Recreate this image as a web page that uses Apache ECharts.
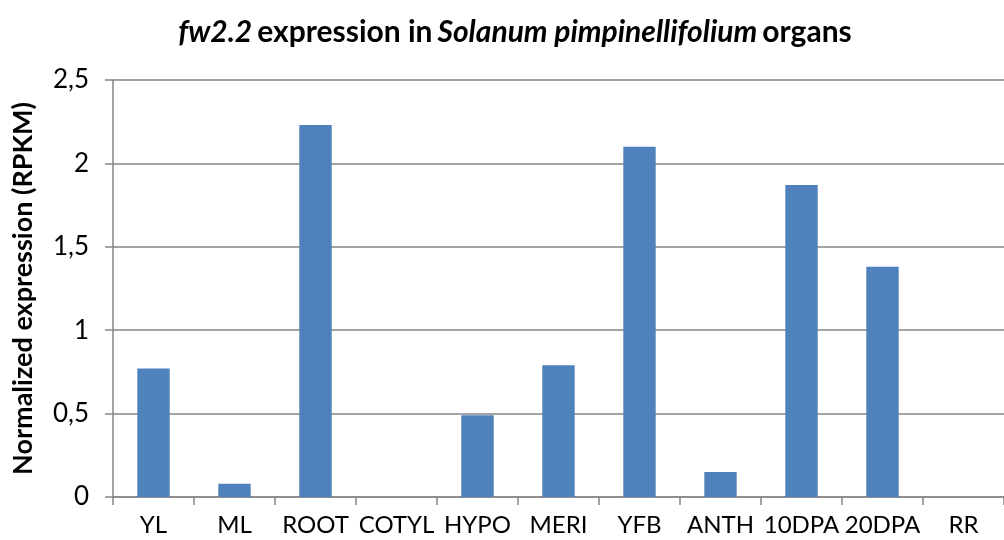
<!DOCTYPE html>
<html><head><meta charset="utf-8">
<script src="https://cdn.jsdelivr.net/npm/echarts@6/dist/echarts.min.js"></script>
<style>html,body{margin:0;padding:0;background:#fff}#c{width:1004px;height:540px}</style>
</head><body><div id="c"></div>
<script>
const categories = ['YL','ML','ROOT','COTYL','HYPO','MERI','YFB','ANTH','10DPA','20DPA','RR'];
const values = [0.77,0.08,2.23,0,0.49,0.79,2.1,0.15,1.87,1.38,0];
const yTicks = {min:0, max:2.5, interval:0.5};
const FONT = "Lato";
const chart = echarts.init(document.getElementById('c'));
chart.setOption({
  animation:false,
  backgroundColor:'#fff',
  title:{
    text:'{i|fw2.2} {b|expression in} {i|Solanum pimpinellifolium} {b|organs}',
    left:510, top:12, textAlign:'center',
    textStyle:{rich:{
      i:{fontFamily:FONT,fontSize:30,fontWeight:'bold',fontStyle:'italic',color:'#000'},
      b:{fontFamily:FONT,fontSize:30,fontWeight:'bold',color:'#000'}
    }}
  },
  grid:{left:113, top:80, bottom:43, right:-11, containLabel:false},
  xAxis:{
    type:'category', data:categories,
    axisLine:{lineStyle:{color:'#868686',width:1.5}},
    axisTick:{show:true,length:8,alignWithLabel:false,lineStyle:{color:'#868686',width:1.5}},
    axisLabel:{color:'#000',fontFamily:FONT,fontSize:24,margin:16,interval:0}
  },
  yAxis:{
    type:'value', min:yTicks.min, max:yTicks.max, interval:yTicks.interval,
    name:'{n|Normalized expression (RPKM)}', nameLocation:'middle', nameGap:76, nameRotate:90,
    nameTextStyle:{rich:{n:{color:'#000',fontFamily:FONT,fontSize:27,fontWeight:'bold'}}},
    axisLine:{show:true,lineStyle:{color:'#868686',width:1.5}},
    axisTick:{show:true,length:8,lineStyle:{color:'#868686',width:1.5}},
    axisLabel:{color:'#000',fontFamily:FONT,fontSize:26,margin:24,
      formatter:v=>String(v).replace('.',',')},
    splitLine:{show:true,lineStyle:{color:'#868686',width:1.5}}
  },
  series:[{type:'bar',data:values,barWidth:'40%',
    itemStyle:{color:'#4F81BD'}}]
});
</script></body></html>
